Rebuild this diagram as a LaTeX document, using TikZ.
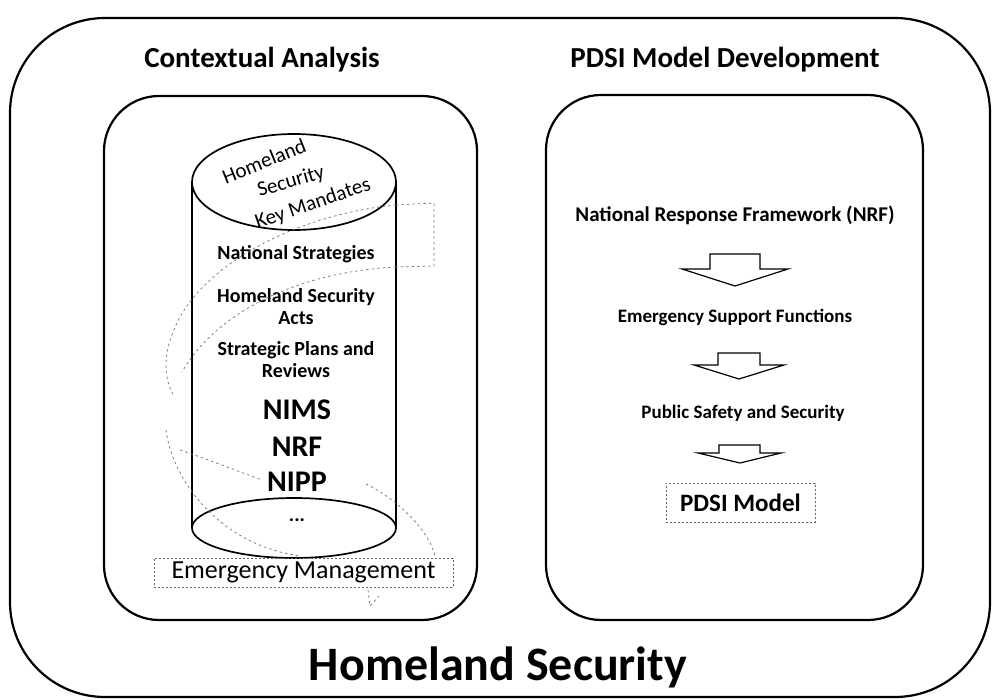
\documentclass[tikz,border=0pt]{standalone}
\usepackage{fontspec}
\setmainfont{Carlito}
\begin{document}
\begin{tikzpicture}[x=1pt,y=-1pt,
  frame/.style={draw=black,line width=2.2pt,rounded corners=#1},
  blockarrow/.style={draw=black,line width=1.2pt,fill=white,line join=miter},
  helix/.style={draw=black!55,line width=0.7pt,dash pattern=on 2.5pt off 3pt},
  dashbox/.style={draw=black!60,line width=0.7pt,dash pattern=on 2pt off 2pt},
  title/.style={font=\fontsize{29}{32}\selectfont\bfseries,anchor=center},
  cyltext/.style={font=\fontsize{20}{22}\selectfont\bfseries,align=center,anchor=center,inner sep=0pt},
  big/.style={font=\fontsize{30}{32}\selectfont\bfseries,anchor=center,inner sep=0pt},
  mandate/.style={font=\fontsize{21}{22}\selectfont,inner sep=0pt,anchor=center},
  rtext/.style={font=\fontsize{19}{21}\selectfont\bfseries,anchor=center,inner sep=0pt}]
\useasboundingbox (0,0) rectangle (999,700);
\fill[white] (0,0) rectangle (999,700);

% outer frame
\draw[frame=95] (10,18) rectangle (990,697);
% inner frames
\draw[frame=55] (104,96) rectangle (477,620);
\draw[frame=55] (546,95) rectangle (923,620);

% titles
\node[title] (tl) at (262,60) {Contextual Analysis};
\node[title] (tr) at (725,60) {PDSI Model Development};
\node[font=\fontsize{48}{52}\selectfont\bfseries,anchor=center] (hs) at (498,667) {Homeland Security};

% cylinder
\draw[line width=1.7pt] (192,182) -- (192,528);
\draw[line width=1.7pt] (396,182) -- (396,528);
\draw[line width=1.7pt,fill=white] (294,182) ellipse [x radius=102, y radius=48];
\draw[line width=1.7pt] (294,528) ellipse [x radius=102, y radius=30];

% mandates text on top ellipse
\node[mandate,rotate=22] (m1) at (264,161) {Homeland};
\node[mandate,rotate=16] (m2) at (291,182) {Security};
\node[mandate,rotate=19] (m3) at (313,204) {Key Mandates};

% cylinder texts
\node[cyltext] (ns) at (296,254) {National Strategies};
\node[cyltext] (hsa) at (296,307) {Homeland Security\\Acts};
\node[cyltext] (spr) at (296,360) {Strategic Plans and\\Reviews};
\node[big] (nims) at (297,410) {NIMS};
\node[big] (nrf) at (297,447) {NRF};
\node[big] (nipp) at (297,482) {NIPP};
\node[cyltext] (dots) at (297,520) {...};

% Emergency management box
\node[dashbox,font=\fontsize{26}{28}\selectfont,minimum width=299pt,minimum height=29pt,inner sep=0pt] (em) at (303.5,572.5) {Emergency Management};

% helix (dashed spiral around cylinder)
\coordinate (h1) at (396,205);
\coordinate (h2) at (396,267);
\draw[helix] (h1) -- (434,203) -- (434,266) -- (h2);
\draw[helix] (h1) .. controls (300,214) and (205,262) .. (176,325) .. controls (162,355) and (164,380) .. (174,396);
\draw[helix] (h2) .. controls (300,272) and (218,310) .. (182,372);
\draw[helix] (166,430) .. controls (172,480) and (220,545) .. (300,556);
\draw[helix] (180,450) .. controls (215,462) and (240,472) .. (262,480);
\draw[helix] (366,484) .. controls (395,498) and (428,528) .. (435,556);
\draw[helix] (368,590) -- (370,606) -- (379,596);

% right column
\node[rtext,font=\fontsize{21}{23}\selectfont\bfseries] (nrfw) at (735,215) {National Response Framework (NRF)};
\node[rtext] (esf) at (735,317) {Emergency Support Functions};
\node[rtext] (pss) at (743,413) {Public Safety and Security};
\node[dashbox,font=\fontsize{25}{27}\selectfont\bfseries,minimum width=149pt,minimum height=39pt,inner sep=0pt] (pdsi) at (740.5,502.5) {PDSI Model};

% block arrows
\draw[blockarrow] (710,254) -- (760,254) -- (760,269) -- (788,269) -- (735,286) -- (682,269) -- (710,269) -- cycle;
\draw[blockarrow] (718,353) -- (760,353) -- (760,365) -- (784,365) -- (739,379) -- (694,365) -- (718,365) -- cycle;
\draw[blockarrow] (719,445) -- (760,445) -- (760,453) -- (781,453) -- (740,463) -- (698,453) -- (719,453) -- cycle;
\end{tikzpicture}
\end{document}
